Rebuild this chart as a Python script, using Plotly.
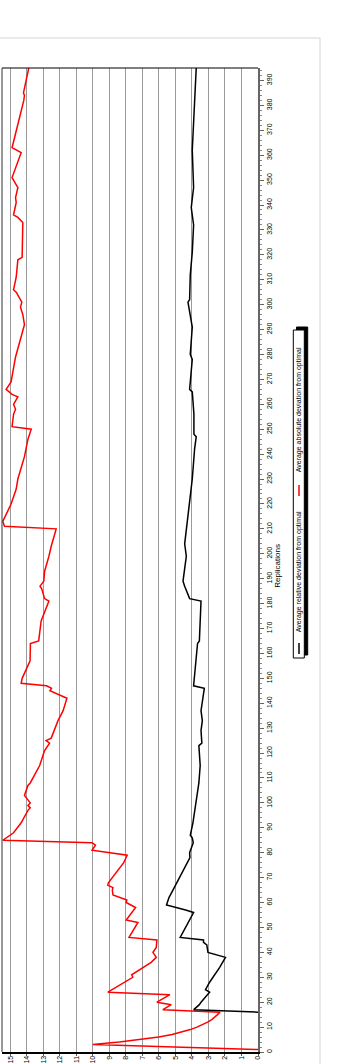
import plotly.graph_objects as go

# ---- data ----
abs_reps = [1, 3, 4, 5, 6, 7, 8, 9, 10, 11, 12, 13, 14, 15, 16, 17, 19, 20, 23, 24, 30, 31, 36, 38, 40, 42,
            45, 46, 52, 53, 58, 60, 61, 63, 65, 66, 67, 68, 76, 79, 81, 83, 84, 85, 88, 92, 97, 98, 99, 100,
            103, 107, 108, 115, 121, 124, 125, 126, 133, 137, 142, 145, 146, 147, 148, 150, 157, 164, 165,
            173, 181, 182, 186, 187, 189, 193, 199, 203, 210, 211, 213, 220, 226, 230, 239, 246, 250, 251,
            256, 258, 260, 263, 264, 266, 269, 279, 292, 296, 299, 301, 305, 306, 311, 318, 319, 331, 333,
            335, 336, 341, 343, 347, 351, 361, 363, 382, 384, 385, 395]
abs_vals = [0.0, 10.0, 8.4, 7.1, 6.0, 5.2, 4.6, 4.1, 3.7, 3.35, 3.05, 2.8, 2.6, 2.45, 2.3, 5.76, 5.25, 6.12,
            5.33, 9.09, 7.58, 7.65, 6.47, 6.16, 6.36, 6.16, 6.12, 7.81, 7.27, 7.98, 7.41, 7.98, 7.94, 8.78,
            8.82, 8.78, 9.1, 9.05, 8.13, 7.92, 10.05, 9.84, 10.05, 15.45, 14.8, 14.34, 13.93, 13.79, 13.93,
            13.79, 14.14, 13.93, 13.79, 13.22, 12.92, 12.62, 12.83, 12.52, 12.11, 11.8, 11.57, 12.6, 12.5,
            12.8, 14.34, 14.28, 13.8, 13.78, 13.28, 13.13, 12.66, 12.92, 13.1, 13.2, 12.97, 12.92, 12.66,
            12.52, 12.22, 15.35, 15.45, 14.95, 14.64, 14.54, 14.14, 13.93, 13.73, 14.89, 14.8, 14.68, 14.8,
            14.54, 14.89, 15.25, 14.95, 14.68, 14.14, 14.24, 14.38, 14.3, 14.64, 14.8, 14.64, 14.54, 14.28,
            14.28, 14.24, 14.54, 14.8, 14.64, 14.68, 14.54, 14.89, 14.34, 14.89, 14.18, 14.14, 14.2, 13.88]

rel_reps = [16, 17, 19, 20, 24, 25, 28, 34, 38, 40, 43, 44, 45, 46, 56, 57, 59, 62, 65, 78, 80, 84, 86, 87,
            92, 103, 108, 115, 123, 124, 129, 133, 137, 146, 147, 164, 165, 181, 182, 187, 189, 194, 199,
            204, 219, 230, 242, 247, 248, 256, 265, 266, 278, 280, 291, 301, 302, 312, 321, 332, 339, 347,
            362, 367, 383, 395]
rel_vals = [0.0, 3.89, 3.55, 3.45, 2.93, 3.18, 2.93, 2.32, 1.97, 3.03, 3.1, 3.3, 3.3, 4.71, 3.9, 4.38, 5.54,
            5.39, 5.15, 4.12, 4.14, 3.92, 3.98, 4.1, 3.94, 3.7, 3.58, 3.5, 3.58, 3.4, 3.45, 3.37, 3.45, 3.25,
            3.9, 3.66, 3.55, 3.45, 4.14, 4.44, 4.54, 4.44, 4.34, 4.44, 4.18, 3.98, 3.84, 3.74, 3.88, 3.88,
            3.98, 4.14, 3.98, 4.1, 3.98, 4.24, 4.14, 4.1, 3.98, 3.9, 4.04, 3.9, 3.98, 3.94, 3.84, 3.74]

value_ticks = list(range(0, 16))
rep_ticks = list(range(0, 400, 10))
rel_name = "Average relative deviation from optimal"
abs_name = "Average absolute deviation from optimal"
axis_title = "Replications"

# ---- layout geometry (pixels) ----
W, H = 344, 1064
L, R, T, B = 2, 86, 68, 12
PW, PH = W - L - R, H - T - B


def px(x):
    return (x - L) / PW


def py(y):
    return (H - B - y) / PH


FONT = "Liberation Sans, Arial, sans-serif"

fig = go.Figure()
fig.add_trace(go.Scatter(x=abs_vals, y=abs_reps, mode="lines", name=abs_name,
                         line=dict(color="#ff0000", width=1.5)))
fig.add_trace(go.Scatter(x=rel_vals, y=rel_reps, mode="lines", name=rel_name,
                         line=dict(color="#000000", width=1.5)))

fig.update_layout(
    width=W, height=H, margin=dict(l=L, r=R, t=T, b=B),
    paper_bgcolor="white", plot_bgcolor="white", showlegend=False,
    font=dict(family=FONT, size=7, color="black"),
)
fig.update_xaxes(
    range=[15.5, 0], tickvals=value_ticks, ticktext=[str(v) for v in value_ticks],
    tickangle=-90, side="bottom", showgrid=True, gridcolor="#9a9a9a", gridwidth=1,
    showline=True, linecolor="black", linewidth=2, ticks="outside", ticklen=2,
    tickcolor="#555555", zeroline=False, automargin=False, ticklabelstandoff=-3,
    tickfont=dict(family=FONT, size=7, color="black"),
)
fig.update_yaxes(
    range=[0, 395], side="right", tickvals=rep_ticks, ticktext=[str(v) for v in rep_ticks],
    tickangle=-90, showgrid=False, showline=True, linecolor="#666666", linewidth=1.5,
    ticks="outside", ticklen=4, tickcolor="#666666",
    minor=dict(dtick=2, ticks="outside", ticklen=2, tickcolor="#888888", showgrid=False),
    zeroline=False, automargin=False,
    tickfont=dict(family=FONT, size=7, color="black"),
)

shapes = []
# outer chart border (light gray)
shapes.append(dict(type="line", xref="paper", yref="paper", x0=px(-5), x1=px(320), y0=py(38), y1=py(38),
                   line=dict(color="#d4d4d4", width=1)))
shapes.append(dict(type="line", xref="paper", yref="paper", x0=px(320), x1=px(320), y0=py(38), y1=py(1070),
                   line=dict(color="#d4d4d4", width=1)))
# plot frame top and left
shapes.append(dict(type="line", xref="paper", yref="paper", x0=0, x1=1, y0=1, y1=1,
                   line=dict(color="black", width=1)))
shapes.append(dict(type="line", xref="paper", yref="paper", x0=0, x1=0, y0=0, y1=1,
                   line=dict(color="#333333", width=1)))
# legend shadow and box
shapes.append(dict(type="rect", xref="paper", yref="paper", x0=px(296.5), x1=px(307.7), y0=py(655), y1=py(327),
                   fillcolor="black", line=dict(color="black", width=1)))
shapes.append(dict(type="rect", xref="paper", yref="paper", x0=px(293.3), x1=px(304.3), y0=py(658), y1=py(330),
                   fillcolor="white", line=dict(color="black", width=1)))
# legend line samples
shapes.append(dict(type="line", xref="paper", yref="paper", x0=px(299), x1=px(299), y0=py(654), y1=py(643),
                   line=dict(color="black", width=1.5)))
shapes.append(dict(type="line", xref="paper", yref="paper", x0=px(299), x1=px(299), y0=py(496), y1=py(485),
                   line=dict(color="#ff0000", width=1.5)))
fig.update_layout(shapes=shapes)

annotations = [
    dict(text=axis_title, xref="paper", yref="paper", x=px(276.7), y=py(566), textangle=-90,
         showarrow=False, xanchor="center", yanchor="middle", font=dict(family=FONT, size=8, color="black")),
    dict(text=rel_name, xref="paper", yref="paper", x=px(299.3), y=py(572), textangle=-90,
         showarrow=False, xanchor="center", yanchor="middle", font=dict(family=FONT, size=7, color="black")),
    dict(text=abs_name, xref="paper", yref="paper", x=px(299.3), y=py(410), textangle=-90,
         showarrow=False, xanchor="center", yanchor="middle", font=dict(family=FONT, size=7, color="black")),
]
fig.update_layout(annotations=annotations)

fig.write_html("out.html")
